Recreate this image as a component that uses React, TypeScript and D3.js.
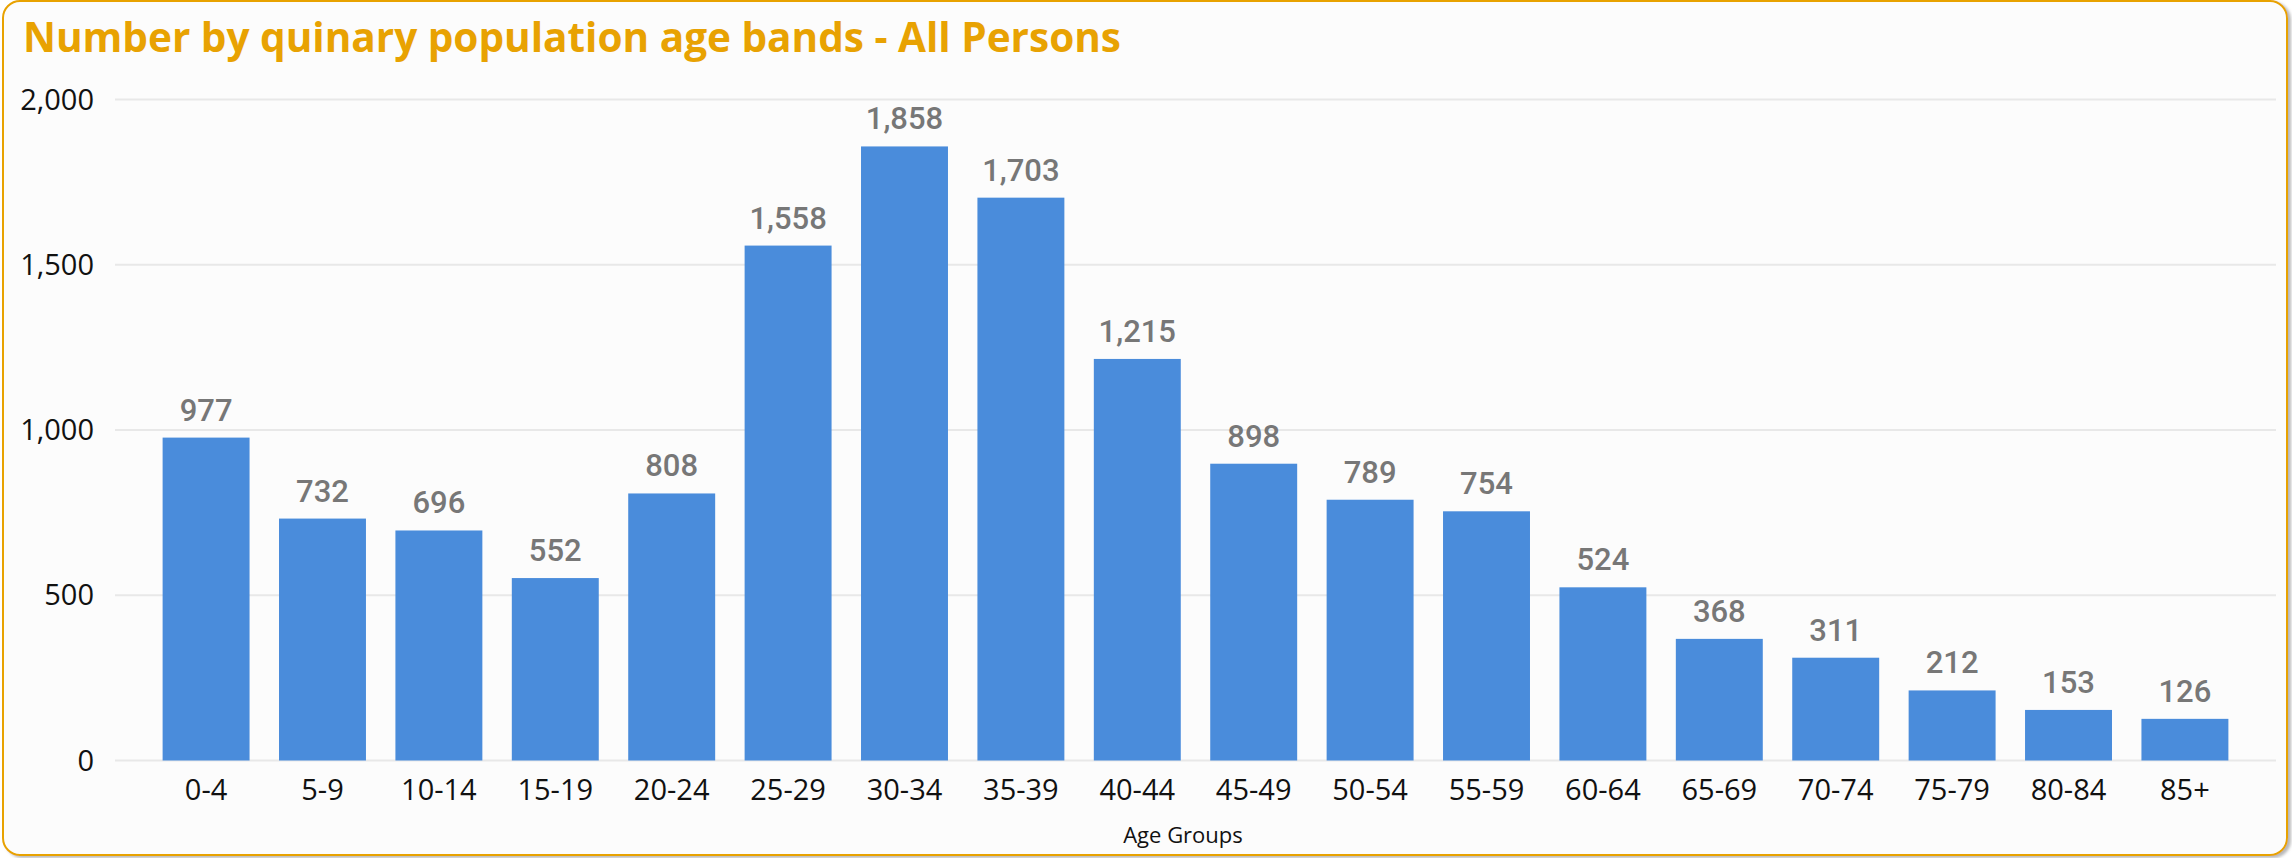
import React from "react";
import * as d3 from "d3";

const categories = ["0-4","5-9","10-14","15-19","20-24","25-29","30-34","35-39","40-44","45-49","50-54","55-59","60-64","65-69","70-74","75-79","80-84","85+"];
const values = [977,732,696,552,808,1558,1858,1703,1215,898,789,754,524,368,311,212,153,126];
const yTicks = [0,500,1000,1500,2000];
const title = "Number by quinary population age bands - All Persons";
const xTitle = "Age Groups";

const W = 2292, H = 858;
const ORANGE = "#E8A202";
const BAR = "#4A8CDB";

export default function App() {
  const x = d3.scaleBand<string>().domain(categories).range([115, 2276]).paddingInner(0.253).paddingOuter(0.409);
  const y = d3.scaleLinear().domain([0, 2000]).range([760.5, 99.5]);
  const fmt = d3.format(",");
  return (
    <svg width={W} height={H} style={{ position: "fixed", top: 0, left: 0 }}>
      <defs>
        <filter id="sh" x="-5%" y="-5%" width="110%" height="110%">
          <feDropShadow dx="3" dy="2" stdDeviation="1.5" floodColor="#999" floodOpacity="0.7" />
        </filter>
      </defs>
      <rect x={0} y={0} width={W} height={H} fill="#ffffff" />
      <rect x={3} y={1} width={2284} height={854} rx={17} ry={17} fill="#FCFCFC" stroke={ORANGE} strokeWidth={2} filter="url(#sh)" />
      <text x={23} y={52} fill={ORANGE} fontFamily="'Open Sans', sans-serif" fontWeight={700} fontSize={41} textLength={1098} lengthAdjust="spacingAndGlyphs">{title}</text>
      {yTicks.map(t => (
        <g key={t}>
          <line x1={115} x2={2276} y1={y(t)} y2={y(t)} stroke="#E8E8E8" strokeWidth={2} />
          <text x={94} y={y(t)} dy="0.35em" textAnchor="end" fontFamily="'Open Sans', sans-serif" fontSize={29} fill="#111">{fmt(t)}</text>
        </g>
      ))}
      {categories.map((c, i) => (
        <g key={c}>
          <rect x={x(c)} y={y(values[i])} width={x.bandwidth()} height={y(0) - y(values[i])} fill={BAR} />
          <text x={(x(c) as number) + x.bandwidth() / 2} y={y(values[i]) - 17} textAnchor="middle" fontFamily="Roboto, sans-serif" fontWeight={500} fontSize={31} fill="#777">{fmt(values[i])}</text>
          <text x={(x(c) as number) + x.bandwidth() / 2} y={800} textAnchor="middle" fontFamily="'Open Sans', sans-serif" fontSize={29} fill="#111">{c}</text>
        </g>
      ))}
      <text x={1183} y={843} textAnchor="middle" fontFamily="'Open Sans', sans-serif" fontSize={22} fill="#111">{xTitle}</text>
    </svg>
  );
}
